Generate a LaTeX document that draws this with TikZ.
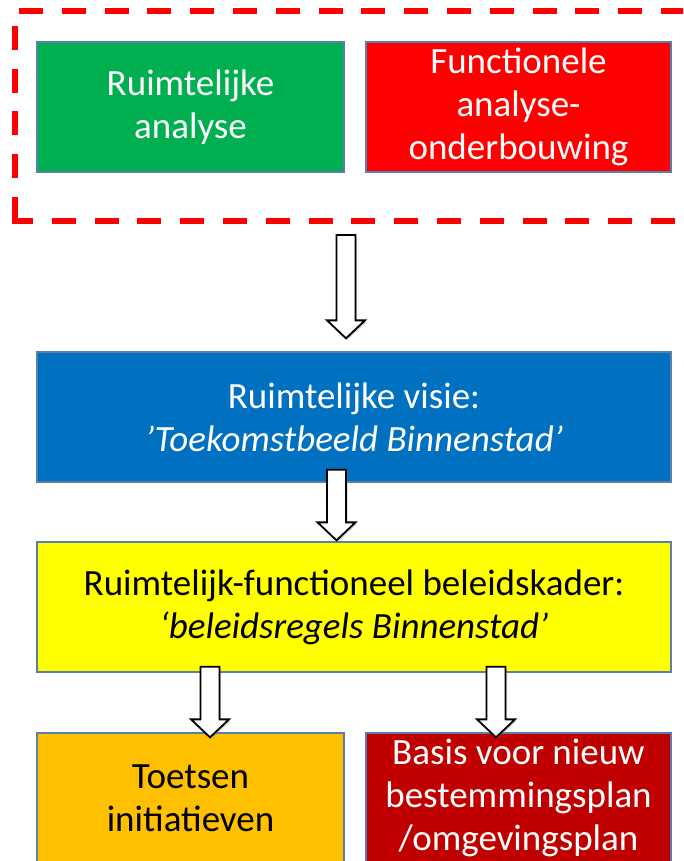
\documentclass[tikz,border=0pt]{standalone}
\usepackage{fontspec}
\setmainfont{Carlito}
\usetikzlibrary{calc,shadows}

\definecolor{groen}{HTML}{00B050}
\definecolor{rood}{HTML}{FF0000}
\definecolor{blauw}{HTML}{0070C0}
\definecolor{geel}{HTML}{FFFF00}
\definecolor{oranje}{HTML}{FFC000}
\definecolor{donkerrood}{HTML}{C00000}
\definecolor{rand}{HTML}{5A7FAA}

\begin{document}
\begin{tikzpicture}[x=1pt,y=-1pt,
    blok/.style={draw=rand, line width=1.3pt, minimum width=307pt, minimum height=130pt,
      inner sep=0pt, align=center, font=\fontsize{37}{43}\selectfont},
    breedblok/.style={blok, minimum width=634pt},
    kaderlijn/.style={draw=rood, line width=5.5pt, dash pattern=on 24pt off 18.8pt},
    pijl/.style={draw=black, fill=white, line width=1.8pt, line join=miter,
      drop shadow={shadow xshift=1.5pt, shadow yshift=-1.5pt, opacity=0.35},
      to path={let \p1=(\tikztostart), \p2=(\tikztotarget) in
        (\x1-9.5pt,\y1) -- (\x1+9.5pt,\y1) -- (\x1+9.5pt,\y2+18pt) -- (\x1+19pt,\y2+18pt)
        -- (\x1,\y2) -- (\x1-19pt,\y2+18pt) -- (\x1-9.5pt,\y2+18pt) -- cycle}}]
  \useasboundingbox[fill=white] (0,0) rectangle (683,861);
  \clip (0,0) rectangle (683,861);

  \draw[kaderlijn] (15,221) -- (15,11) -- (690,11);
  \draw[kaderlijn, dash phase=3.25pt] (12.25,221) -- (690,221);
  \coordinate (kader) at (354,221);

  \node[blok, fill=groen, text=white] (analyse) at (190.5,107)
    {Ruimtelijke\\analyse};
  \node[blok, fill=rood, text=white, minimum width=305pt] (functie) at (518.5,107)
    {Functionele\\analyse-\\onderbouwing};
  \node[breedblok, fill=blauw, text=white] (visie) at (354,417)
    {Ruimtelijke visie:\\\textit{’Toekomstbeeld Binnenstad’}};
  \node[breedblok, fill=geel, text=black] (beleid) at (354,607)
    {Ruimtelijk-functioneel beleidskader:\\\textit{‘beleidsregels Binnenstad’}};
  \node[blok, fill=oranje, text=black] (toetsen) at (190.5,798)
    {Toetsen\\initiatieven};
  \node[blok, fill=donkerrood, text=white, minimum width=305pt] (basis) at (518.5,798)
    {Basis voor nieuw\\bestemmingsplan\\/omgevingsplan};

  \draw[pijl] ([xshift=-8pt,yshift=-14pt]kader) to ([xshift=-8pt,yshift=13pt]visie.north);
  \draw[pijl] ([xshift=-17.5pt,yshift=13pt]visie.south) to ([xshift=-17.5pt,yshift=1pt]beleid.north);
  \draw[pijl] ([xshift=-144pt,yshift=6pt]beleid.south) to ([xshift=19.5pt,yshift=-5pt]toetsen.north);
  \draw[pijl] ([xshift=142pt,yshift=6pt]beleid.south) to ([xshift=-22.5pt,yshift=-5pt]basis.north);
\end{tikzpicture}
\end{document}
